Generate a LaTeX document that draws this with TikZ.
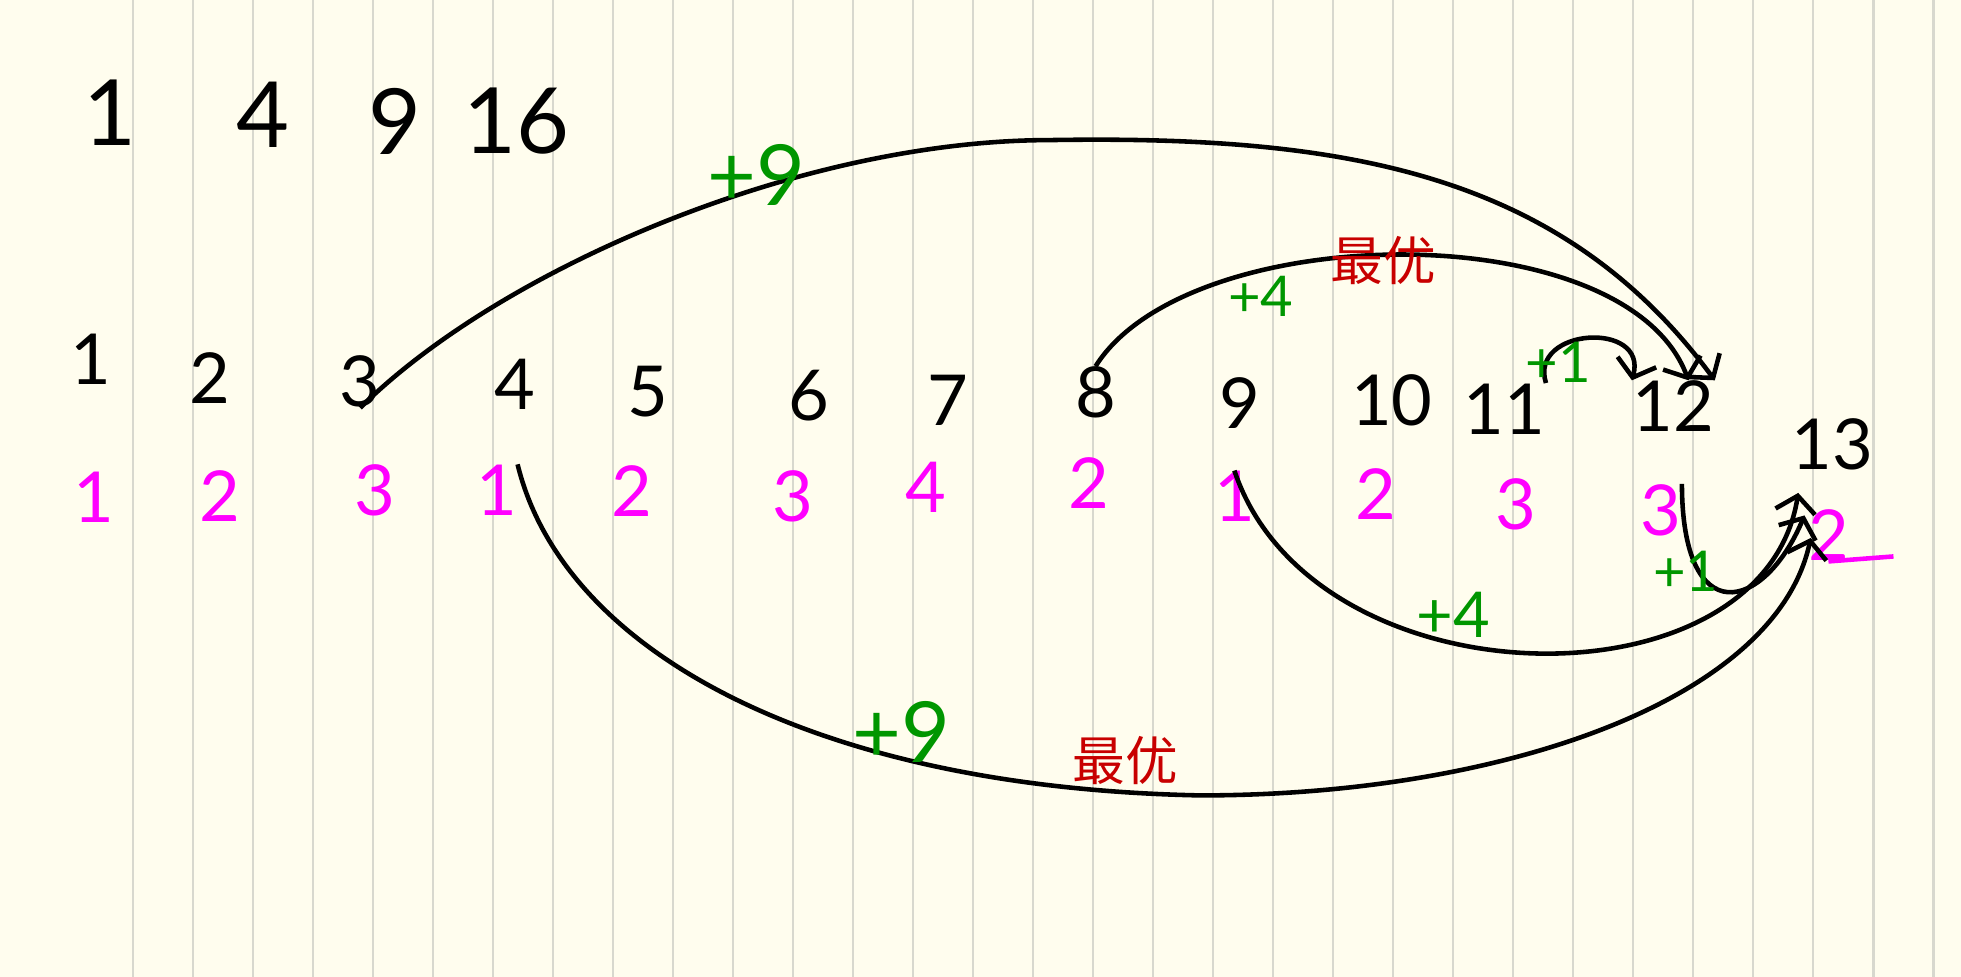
\documentclass[tikz,border=0pt]{standalone}
\usepackage{fontspec}
\setmainfont{Lato}
\newfontfamily\cjk{Noto Sans CJK SC}
\usetikzlibrary{arrows.meta,calc}
\definecolor{paper}{RGB}{255,253,238}
\definecolor{rule}{RGB}{216,216,206}
\definecolor{inkpink}{RGB}{255,0,255}
\definecolor{inkgreen}{RGB}{0,150,0}
\definecolor{inkred}{RGB}{200,0,0}

\begin{document}
\begin{tikzpicture}[
  x=0.012506cm, y=-0.012506cm,
  square/.style={inner sep=0pt, font=\fontsize{26}{30}\selectfont},
  num/.style={inner sep=0pt, font=\fontsize{20}{24}\selectfont},
  count/.style={inner sep=0pt, text=inkpink, font=\fontsize{20}{24}\selectfont},
  gain/.style={inner sep=0pt, text=inkgreen},
  best/.style={inner sep=0pt, text=inkred, font=\cjk\fontsize{15}{18}\selectfont},
  jump/.style={line width=1.3pt, -{Straight Barb[length=1.6mm,width=4mm]}}
  ]

\fill[paper] (0,0) rectangle (1568,781);
\useasboundingbox (0,0) rectangle (1568,781);
\foreach \i in {0,...,30}
  \draw[rule, line width=0.6pt] (106+48*\i,0) -- (106+48*\i,781);

\node[square] (sq1) at (88,90) {1};
\node[square] (sq2) at (210,92) {4};
\node[square] (sq3) at (316,97) {9};
\node[square] (sq4) at (413,97) {16};

\node[num] (n1) at (73,287) {1};
\node[num] (n2) at (168,302) {2};
\node[num] (n3) at (288,305) {3};
\node[num] (n4) at (412,307) {4};
\node[num] (n5) at (518,313) {5};
\node[num] (n6) at (647,316) {6};
\node[num] (n7) at (758,320) {7};
\node[num] (n8) at (876,314) {8};
\node[num] (n9) at (991,322) {9};
\node[num] (n10) at (1113,320) {10};
\node[num] (n11) at (1203,327) {11};
\node[num] (n12) at (1338,325) {12};
\node[num] (n13) at (1465,355) {13};

\node[count] (c1) at (75,398) {1};
\node[count] (c2) at (176,397) {2};
\node[count] (c3) at (300,392) {3};
\node[count] (c4) at (397,392) {1};
\node[count] (c5) at (505,393) {2};
\node[count] (c6) at (634,397) {3};
\node[count] (c7) at (740,390) {4};
\node[count] (c8) at (871,386) {2};
\node[count] (c9) at (987,397) {1};
\node[count] (c10) at (1100,395) {2};
\node[count] (c11) at (1212,403) {3};
\node[count] (c12) at (1328,408) {3};
\node[count] (c13) at (1462,428) {2};
\draw[inkpink, line width=1.3pt] (c13.south) -- ($(c13.south)+(52,-4)$);

\draw[jump] (n3.south) .. controls (400,215) and (640,112) .. (840,112)
  .. controls (1080,108) and (1250,140) .. (n12.north east);
\draw[jump] (n8.north) .. controls (950,175) and (1300,170) .. (n12.60);
\draw[jump] (n11.north east) .. controls (1222,262) and (1318,256) .. (n12.north west);
\draw[jump] (c4.north east) .. controls (450,520) and (650,630) .. (960,636)
  .. controls (1200,636) and (1420,560) .. ($(n13.south west)+(16,54)$);
\draw[jump] (c9.north) .. controls (1050,565) and (1410,570) .. ($(n13.south west)+(6,18)$);
\draw[jump] (c12.north east) .. controls (1345,505) and (1410,490) .. ($(n13.south west)+(11,36)$);

\node[gain, font=\fontsize{24}{28}\selectfont] (g1) at (605,140) {+9};
\node[gain, font=\fontsize{16}{20}\selectfont] (g2) at (1008,237) {+4};
\node[best] (b1) at (1106,208) {最优};
\node[gain, font=\fontsize{16}{20}\selectfont] (g3) at (1246,290) {+1};
\node[gain, font=\fontsize{18}{22}\selectfont] (g4) at (1162,492) {+4};
\node[gain, font=\fontsize{16}{20}\selectfont] (g5) at (1348,457) {+1};
\node[gain, font=\fontsize{24}{28}\selectfont] (g6) at (721,585) {+9};
\node[best] (b2) at (900,608) {最优};

\end{tikzpicture}
\end{document}
